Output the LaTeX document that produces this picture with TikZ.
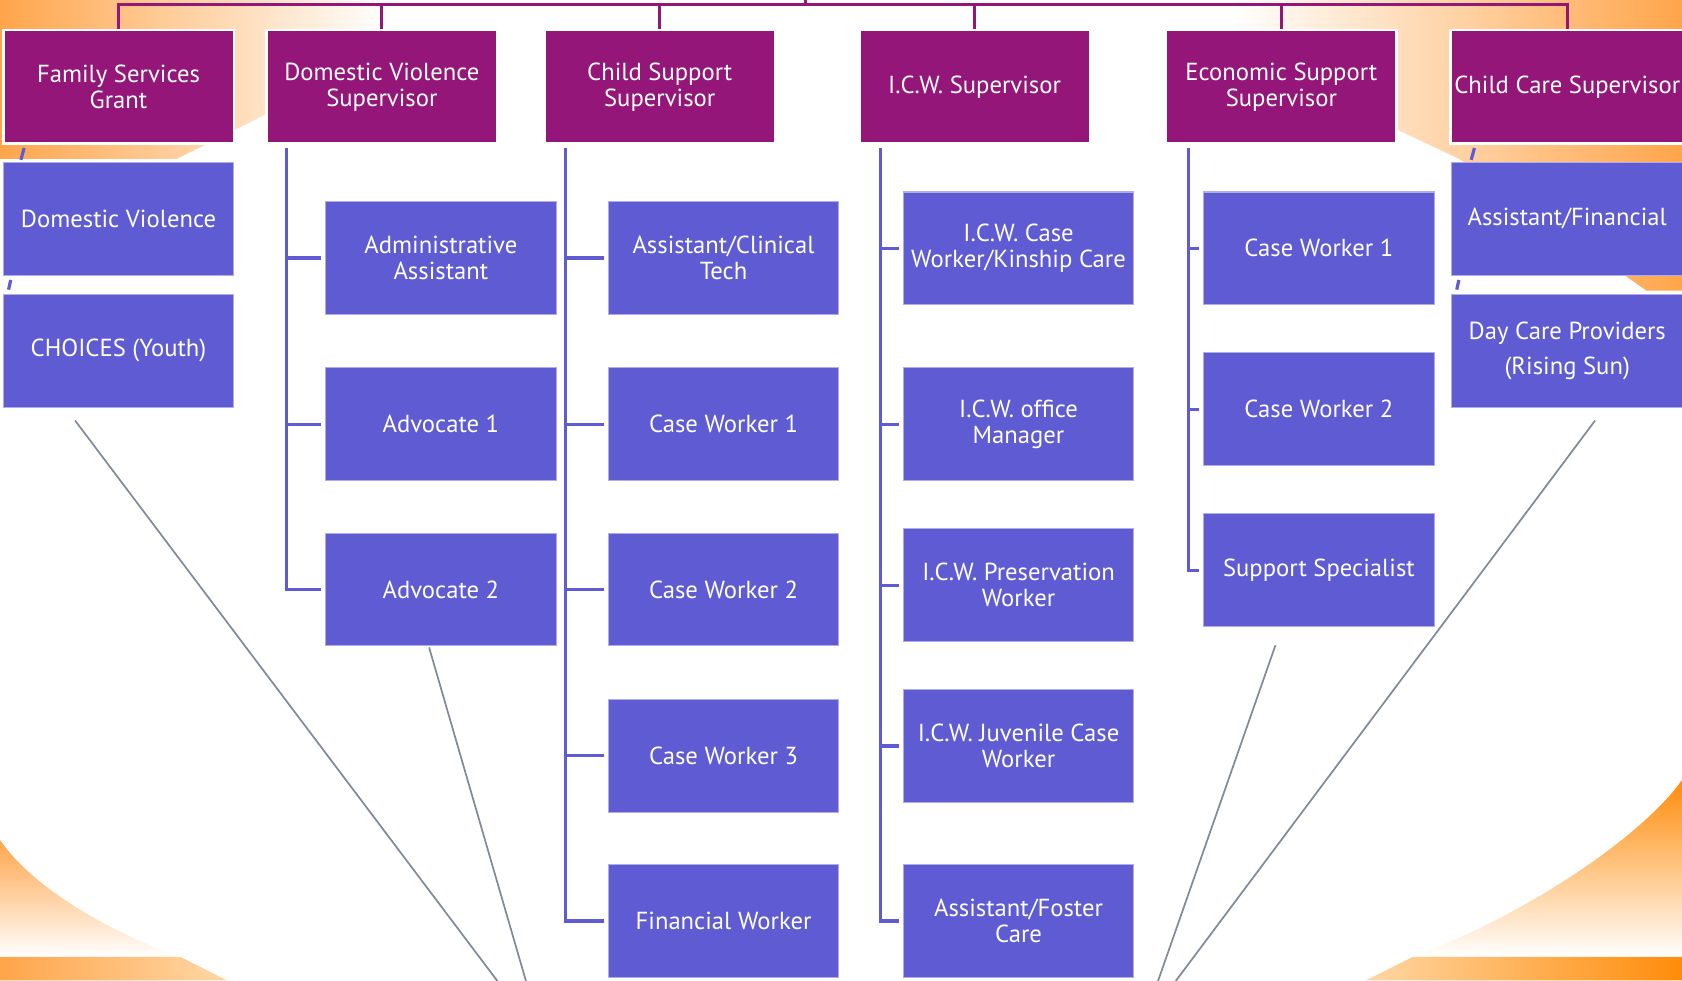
\documentclass[tikz,border=0pt]{standalone}
\usepackage{fontspec}
\setmainfont{PT Sans}
\definecolor{purp}{RGB}{148,22,120}
\definecolor{blu}{RGB}{95,91,210}
\definecolor{bedge}{RGB}{175,172,238}
\definecolor{gline}{RGB}{128,138,152}
\definecolor{orA}{RGB}{255,165,75}
\definecolor{orB}{RGB}{255,140,10}
\definecolor{orL}{RGB}{255,215,165}
\begin{document}
\begin{tikzpicture}[x=1pt,y=-1pt,
  boxfont/.style={font=\fontsize{23}{24}\selectfont},
  sup/.style={rectangle, fill=purp, draw=white, line width=2.5pt, minimum width=215pt, minimum height=106pt, inner sep=0pt, text=white, align=center, boxfont},
  emp/.style={rectangle, fill=blu, draw=bedge, line width=1pt, minimum width=215pt, minimum height=105pt, inner sep=0pt, text=white, align=center, boxfont},
  pl/.style={draw=purp, line width=3pt},
  bl/.style={draw=blu, line width=3pt},
  gl/.style={draw=gline, line width=1.6pt},
]
\useasboundingbox (0,0) rectangle (1568,914);
\clip (0,0) rectangle (1568,914);
\fill[white] (0,0) rectangle (1568,914);
% background decoration
\shade[left color=orA, middle color=orL, right color=white] (0,0) -- (360,0) -- (360,52) -- (245,108) -- (165,148) -- (0,148) -- cycle;
\shade[left color=white, middle color=orL, right color=orA] (1150,0) -- (1568,0) -- (1568,271) -- (1535,271) -- (1360,148) -- (1305,122) -- (1150,60) -- cycle;
\shade[top color=orA, bottom color=white] (0,783) .. controls (30,827) and (100,868) .. (168,892) -- (0,892) -- cycle;
\shade[left color=orA, right color=orL] (0,892) -- (168,892) -- (212,914) -- (0,914) -- cycle;
\shade[top color=orB, bottom color=white] (1568,727) .. controls (1535,775) and (1430,850) .. (1317,892) -- (1568,892) -- cycle;
\shade[left color=orL, right color=orB] (1317,892) -- (1568,892) -- (1568,914) -- (1273,914) -- cycle;

% supervisors
\node[sup] (fsg) at (110.5,81) {Family Services\\Grant};
\node[sup] (dvs) at (356,81) {Domestic Violence\\Supervisor};
\node[sup] (css) at (615,81) {Child Support\\Supervisor};
\node[sup] (icw) at (908.5,81) {I.C.W. Supervisor};
\node[sup] (ess) at (1194.5,81) {Economic Support\\Supervisor};
\node[sup, minimum width=218pt] (ccs) at (1461,81) {Child Care Supervisor};

% staff
\node[emp] (fdv) at (110.5,204) {Domestic Violence};
\node[emp] (cho) at (110.5,327) {CHOICES (Youth)};
\node[emp] (aa) at (411,240.5) {Administrative\\Assistant};
\node[emp] (adv1) at (411,395.5) {Advocate 1};
\node[emp] (adv2) at (411,549.5) {Advocate 2};
\node[emp] (act) at (674.5,240.5) {Assistant/Clinical\\Tech};
\node[emp] (cs1) at (674.5,395.5) {Case Worker 1};
\node[emp] (cs2) at (674.5,549.5) {Case Worker 2};
\node[emp] (cs3) at (674.5,704.5) {Case Worker 3};
\node[emp] (fw) at (674.5,858.5) {Financial Worker};
\node[emp] (ik) at (949.5,231.5) {I.C.W. Case\\Worker/Kinship Care};
\node[emp] (io) at (949.5,395.5) {I.C.W. office\\Manager};
\node[emp] (ip) at (949.5,545.5) {I.C.W. Preservation\\Worker};
\node[emp] (ij) at (949.5,695.5) {I.C.W. Juvenile Case\\Worker};
\node[emp] (ia) at (949.5,858.5) {Assistant/Foster\\Care};
\node[emp] (e1) at (1229.5,231.5) {Case Worker 1};
\node[emp] (e2) at (1229.5,381.5) {Case Worker 2};
\node[emp] (es) at (1229.5,531.5) {Support Specialist};
\node[emp] (caf) at (1461,204) {Assistant/Financial};
\node[emp, font=\fontsize{23}{32}\selectfont] (dcp) at (1461,327) {Day Care Providers\\(Rising Sun)};

% top bar
\coordinate (bar) at (751,4);
\coordinate (root) at (751,-6);
\draw[pl] (fsg.north) |- (bar) -| (ccs.north);
\foreach \n in {dvs,css,icw,ess} \draw[pl] (\n.north) -- (\n.north |- bar);
\draw[pl] (bar) -- (root);

% trunks
\foreach \c in {aa,adv1,adv2} \draw[bl] ([shift={(20,3)}]dvs.south west) |- ([xshift=-3.5pt]\c.west);
\foreach \c in {act,cs1,cs2,cs3,fw} \draw[bl] ([shift={(21,3)}]css.south west) |- ([xshift=-3.5pt]\c.west);
\foreach \c in {ik,io,ip,ij,ia} \draw[bl] ([shift={(21,3)}]icw.south west) |- ([xshift=-3.5pt]\c.west);
\foreach \c in {e1,e2,es} \draw[bl] ([shift={(22,3)}]ess.south west) |- ([xshift=-3.5pt]\c.west);

% stray ticks
\coordinate (tk1a) at (22.5,138); \coordinate (tk1b) at (19.5,149);
\coordinate (tk2a) at (10,261); \coordinate (tk2b) at (8,270);
\coordinate (tk3a) at (1374.5,138); \coordinate (tk3b) at (1371.5,149);
\coordinate (tk4a) at (1360,261); \coordinate (tk4b) at (1358,270);
\draw[bl] (tk1a) -- (tk1b);
\draw[bl] (tk2a) -- (tk2b);
\draw[bl] (tk3a) -- (tk3b);
\draw[bl] (tk4a) -- (tk4b);

% grey lines
\coordinate (hubL) at (507,972);
\coordinate (hubR) at (1065,956);
\draw[gl] ([shift={(-40.5,12)}]cho.south) -- (hubL);
\draw[gl] ([shift={(-11,1)}]adv2.south) -- (hubL);
\draw[gl] ([shift={(-40.5,17)}]es.south) -- (hubR);
\draw[gl] ([shift={(26,12)}]dcp.south) -- (hubR);
\end{tikzpicture}
\end{document}
